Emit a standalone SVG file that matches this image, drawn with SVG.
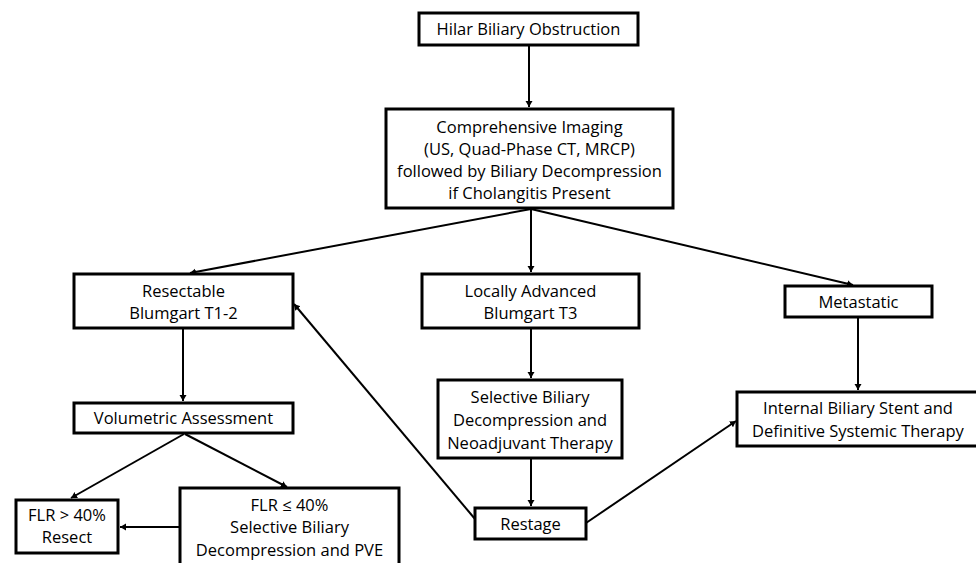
<svg xmlns="http://www.w3.org/2000/svg" width="976" height="563" viewBox="0 0 976 563">
<style>
.box{fill:#fff;stroke:#000;stroke-width:3}
.t{font-family:"Open Sans","Liberation Sans",sans-serif;font-size:16.5px;fill:#000;text-anchor:middle}
.c{stroke:#000;stroke-width:2;fill:none}
</style>
<defs>
<marker id="ah" markerUnits="userSpaceOnUse" markerWidth="9" markerHeight="9" refX="6" refY="3.5" orient="auto">
<path d="M0,0 L6,3.5 L0,7 Z" fill="#000"/>
</marker>
</defs>
<rect width="976" height="563" fill="#fff"/>
<g id="connectors">
<line class="c" x1="529" y1="45" x2="529" y2="107" marker-end="url(#ah)"/>
<line class="c" x1="531" y1="209" x2="190" y2="273" marker-end="url(#ah)"/>
<line class="c" x1="531" y1="209" x2="531" y2="272" marker-end="url(#ah)"/>
<line class="c" x1="531" y1="209" x2="853" y2="285" marker-end="url(#ah)"/>
<line class="c" x1="183" y1="328" x2="183" y2="401" marker-end="url(#ah)"/>
<line class="c" x1="531" y1="328" x2="531" y2="378" marker-end="url(#ah)"/>
<line class="c" x1="858" y1="317" x2="858" y2="390" marker-end="url(#ah)"/>
<line class="c" x1="184" y1="434" x2="71" y2="498" marker-end="url(#ah)"/>
<line class="c" x1="185" y1="434" x2="287" y2="487" marker-end="url(#ah)"/>
<line class="c" x1="180" y1="527" x2="120" y2="527" marker-end="url(#ah)"/>
<line class="c" x1="531" y1="458" x2="531" y2="506" marker-end="url(#ah)"/>
<line class="c" x1="475" y1="519" x2="294" y2="304" marker-end="url(#ah)"/>
<line class="c" x1="586" y1="523" x2="736" y2="421" marker-end="url(#ah)"/>
</g>
<g id="hilar">
<rect class="box" x="419" y="13" width="219" height="32"/>
<text class="t" x="528.5" y="35">Hilar Biliary Obstruction</text>
</g>
<g id="imaging">
<rect class="box" x="386" y="109" width="287" height="99"/>
<text class="t" x="529.5" y="133">Comprehensive Imaging</text>
<text class="t" x="529.5" y="155">(US, Quad-Phase CT, MRCP)</text>
<text class="t" x="529.5" y="177">followed by Biliary Decompression</text>
<text class="t" x="529.5" y="199">if Cholangitis Present</text>
</g>
<g id="resectable">
<rect class="box" x="74" y="274" width="219" height="54"/>
<text class="t" x="183.5" y="297">Resectable</text>
<text class="t" x="183.5" y="319">Blumgart T1-2</text>
</g>
<g id="locally-advanced">
<rect class="box" x="422" y="274" width="217" height="54"/>
<text class="t" x="530.5" y="297">Locally Advanced</text>
<text class="t" x="530.5" y="319">Blumgart T3</text>
</g>
<g id="metastatic">
<rect class="box" x="785" y="286" width="147" height="31"/>
<text class="t" x="858.5" y="307.5">Metastatic</text>
</g>
<g id="volumetric">
<rect class="box" x="74" y="403" width="219" height="30"/>
<text class="t" x="183.5" y="424">Volumetric Assessment</text>
</g>
<g id="selective">
<rect class="box" x="438" y="380" width="184" height="78"/>
<text class="t" x="530" y="403">Selective Biliary</text>
<text class="t" x="530" y="426">Decompression and</text>
<text class="t" x="530" y="449">Neoadjuvant Therapy</text>
</g>
<g id="internal-stent">
<rect class="box" x="737" y="392" width="243" height="54"/>
<text class="t" x="858" y="414">Internal Biliary Stent and</text>
<text class="t" x="858" y="437">Definitive Systemic Therapy</text>
</g>
<g id="flr-gt">
<rect class="box" x="16" y="500" width="102" height="53"/>
<text class="t" x="67" y="521">FLR &gt; 40%</text>
<text class="t" x="67" y="543">Resect</text>
</g>
<g id="flr-le">
<rect class="box" x="180" y="488" width="219" height="82"/>
<text class="t" x="289.5" y="511">FLR ≤ 40%</text>
<text class="t" x="289.5" y="533">Selective Biliary</text>
<text class="t" x="289.5" y="556">Decompression and PVE</text>
</g>
<g id="restage">
<rect class="box" x="475" y="508" width="111" height="31"/>
<text class="t" x="530.5" y="529.5">Restage</text>
</g>
</svg>
